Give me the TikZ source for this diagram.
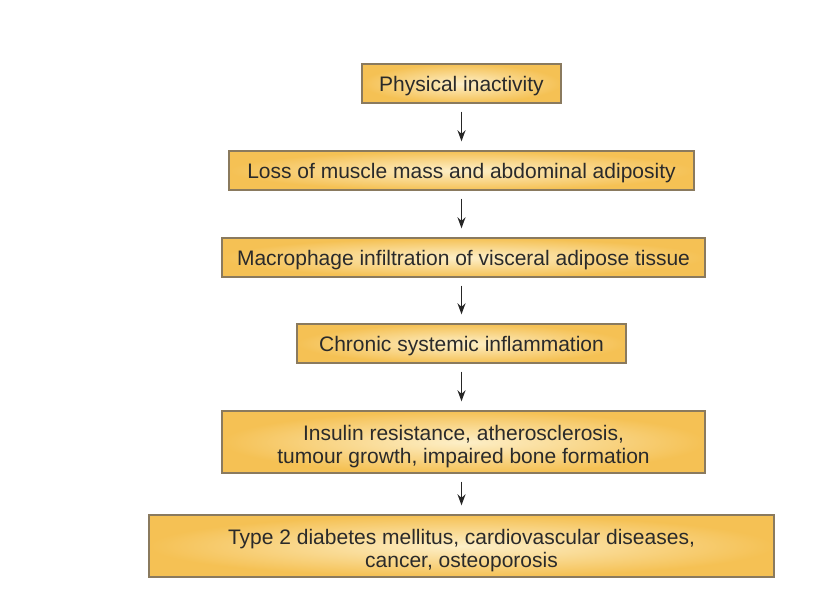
\documentclass[tikz,border=0pt]{standalone}
\usepackage{fontspec}
\setmainfont{Liberation Sans}
\usetikzlibrary{arrows.meta}
\definecolor{boxedge}{HTML}{8A7A5E}
\definecolor{boxin}{HTML}{FDEFC8}
\definecolor{boxout}{HTML}{F5C154}
\definecolor{txt}{HTML}{2A2A2A}
\tikzset{
  flowbox/.style={draw=boxedge, line width=1.4pt, inner color=boxin, outer color=boxout, inner sep=0pt},
  boxtext/.style={text=txt, font=\fontsize{21}{23}\selectfont, align=center, inner sep=0pt, yshift=-2.5pt},
  arr/.style={draw=black!85, line width=1.5pt, -{Stealth[length=11pt,width=8pt]},
    shorten <=8pt, shorten >=9pt}
}
\begin{document}
\begin{tikzpicture}[x=1pt,y=-1pt]
\useasboundingbox (0,0) rectangle (840,597);
\fill[white] (0,0) rectangle (840,597);
\node[flowbox, minimum width=199pt, minimum height=39pt] (b1) at (461.5,83.5) {};
\node[flowbox, minimum width=465pt, minimum height=39pt] (b2) at (461.5,170.5) {};
\node[flowbox, minimum width=483pt, minimum height=39pt] (b3) at (463.5,257.5) {};
\node[flowbox, minimum width=329pt, minimum height=39pt] (b4) at (461.5,343.5) {};
\node[flowbox, minimum width=483pt, minimum height=62pt] (b5) at (463.5,442) {};
\node[flowbox, minimum width=625pt, minimum height=62pt] (b6) at (461.5,546) {};
\node[boxtext] (t1) at (b1) {Physical inactivity};
\node[boxtext] (t2) at (b2) {Loss of muscle mass and abdominal adiposity};
\node[boxtext] (t3) at (b3) {Macrophage infiltration of visceral adipose tissue};
\node[boxtext] (t4) at (b4) {Chronic systemic inflammation};
\node[boxtext, yshift=-2pt] (t5) at (b5) {Insulin resistance, atherosclerosis,\\tumour growth, impaired bone formation};
\node[boxtext, yshift=-2pt] (t6) at (b6) {Type 2 diabetes mellitus, cardiovascular diseases,\\cancer, osteoporosis};
\draw[arr] (b1.south) -- (b1.south |- b2.north);
\draw[arr] (b2.south) -- (b2.south |- b3.north);
\draw[arr] (b3.south -| b1.south) -- (b1.south |- b4.north);
\draw[arr] (b4.south) -- (b4.south |- b5.north);
\draw[arr] (b5.south -| b1.south) -- (b1.south |- b6.north);
\end{tikzpicture}
\end{document}
